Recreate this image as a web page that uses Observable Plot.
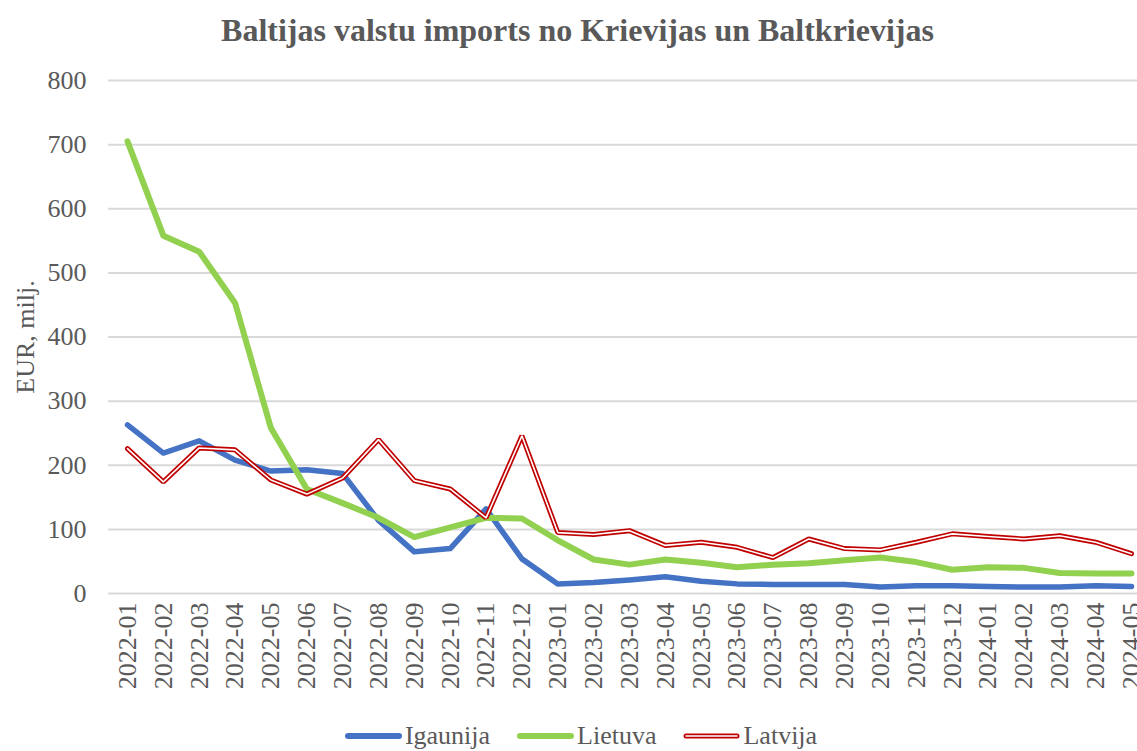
<!DOCTYPE html>
<html>
<head>
<meta charset="utf-8">
<script src="https://cdn.jsdelivr.net/npm/d3@7"></script>
<script src="https://cdn.jsdelivr.net/npm/@observablehq/plot@0.6"></script>
<style>
  html, body { margin: 0; padding: 0; background: #fff; }
  #wrap { width: 1137px; height: 751px; position: relative; overflow: hidden; font-family: "Liberation Serif", "Times New Roman", serif; color: #595959; }
  #title { height: 50px; box-sizing: border-box; padding-top: 14px; padding-left: 18px; line-height: 1; text-align: center; font-weight: bold; font-size: 32px; color: #595959; white-space: nowrap; }
  #chart svg { display: block; }
  #legend { height: 51px; box-sizing: border-box; padding-top: 20px; padding-left: 24px; display: flex; justify-content: center; align-items: center; font-size: 26px; line-height: 1; }
  .item { display: flex; align-items: center; margin: 0 13px; }
  .item svg { margin-right: 2px; }
</style>
</head>
<body>
<div id="wrap">
  <div id="title">Baltijas valstu imports no Krievijas un Baltkrievijas</div>
  <div id="chart"></div>
  <div id="legend"></div>
</div>
<script>
const months = ["2022-01","2022-02","2022-03","2022-04","2022-05","2022-06","2022-07","2022-08","2022-09","2022-10","2022-11","2022-12",
  "2023-01","2023-02","2023-03","2023-04","2023-05","2023-06","2023-07","2023-08","2023-09","2023-10","2023-11","2023-12",
  "2024-01","2024-02","2024-03","2024-04","2024-05"];
const igaunija = [263,219,238,208,191,193,187,114,65,70,132,54,15,17,21,26,19,15,14,14,14,10,12,12,11,10,10,12,11];
const lietuva  = [705,558,533,453,258,163,141,118,88,103,118,117,83,53,45,53,48,41,45,47,52,56,49,37,41,40,32,31,31];
const latvija  = [226,174,227,224,177,155,180,240,176,163,118,246,95,92,98,75,80,72,56,85,70,68,80,93,89,85,90,80,62];
const yTicks = [0,100,200,300,400,500,600,700,800];
const seriesNames = ["Igaunija","Lietuva","Latvija"];
const colors = {Igaunija: "#4472C4", Lietuva: "#92D050", Latvija: "#C00000"};

const toRows = (arr) => months.map((m, i) => ({month: m, value: arr[i]}));
const rowsI = toRows(igaunija), rowsL = toRows(lietuva), rowsV = toRows(latvija);

const chart = Plot.plot({
  width: 1137,
  height: 650,
  marginTop: 30,
  marginBottom: 107,
  marginLeft: 108,
  marginRight: 0,
  style: {fontFamily: "Liberation Serif, Times New Roman, serif", fontSize: "26px", color: "#595959", background: "#fff"},
  x: {type: "point", domain: months, range: [127, 1131], padding: 0, round: false},
  y: {domain: [0, 800]},
  marks: [
    Plot.gridY(yTicks, {stroke: "#d9d9d9", strokeOpacity: 1, strokeWidth: 2}),
    Plot.axisY(yTicks, {tickSize: 0, tickPadding: 22, fontSize: 26, label: "EUR, milj.", labelAnchor: "center", labelOffset: 93, labelArrow: "none"}),
    Plot.axisX({tickSize: 0, tickPadding: 9, tickRotate: -90, fontSize: 26, label: null}),
    Plot.line(rowsI, {x: "month", y: "value", stroke: colors.Igaunija, strokeWidth: 5.5, strokeLinecap: "round", strokeLinejoin: "round"}),
    Plot.line(rowsL, {x: "month", y: "value", stroke: colors.Lietuva, strokeWidth: 6, strokeLinecap: "round", strokeLinejoin: "round"}),
    Plot.line(rowsV, {x: "month", y: "value", stroke: colors.Latvija, strokeWidth: 5, strokeLinecap: "round", strokeLinejoin: "miter"}),
    Plot.line(rowsV, {x: "month", y: "value", stroke: "#fff", strokeWidth: 1.6, strokeLinecap: "round", strokeLinejoin: "miter"})
  ]
});
document.getElementById("chart").appendChild(chart);

const legend = document.getElementById("legend");
seriesNames.forEach(name => {
  const item = document.createElement("div");
  item.className = "item";
  const double = name === "Latvija";
  item.innerHTML = `<svg width="59" height="10"><line x1="4" y1="5" x2="55" y2="5" stroke="${colors[name]}" stroke-width="${double ? 5 : 6}" stroke-linecap="round"/>${double ? '<line x1="4" y1="5" x2="55" y2="5" stroke="#fff" stroke-width="1.6" stroke-linecap="round"/>' : ''}</svg><span>${name}</span>`;
  legend.appendChild(item);
});
</script>
</body>
</html>
